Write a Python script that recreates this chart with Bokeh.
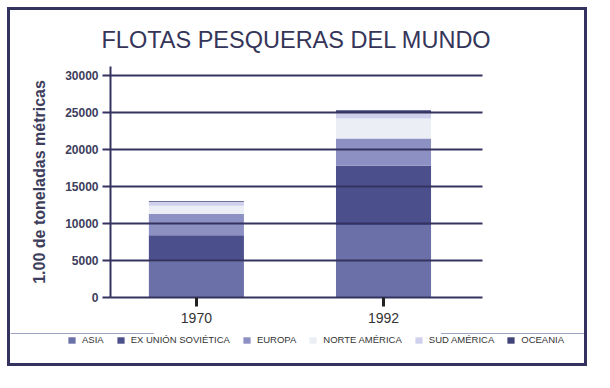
from bokeh.plotting import figure
from bokeh.layouts import column
from bokeh.models import Range1d, FixedTicker, Legend, LegendItem, ColumnDataSource, InlineStyleSheet
from bokeh.embed import file_html
from bokeh.resources import INLINE

# ---- data ----
years = ["1970", "1992"]
asia = [4900, 9800]
ex_union_sovietica = [3500, 8000]
europa = [2900, 3700]
norte_america = [1100, 2700]
sud_america = [500, 800]
oceania = [100, 300]
series_names = ["ASIA", "EX UNIÓN SOVIÉTICA", "EUROPA", "NORTE AMÉRICA", "SUD AMÉRICA", "OCEANIA"]
y_ticks = [0, 5000, 10000, 15000, 20000, 25000, 30000]

# ---- styles ----
colors = ["#6c70a8", "#4b4f8c", "#8c90c3", "#eceef6", "#cfd1ec", "#3f4378"]
navy = "#34325e"
FONT = "Liberation Sans"

keys = ["asia", "exus", "europa", "norte", "sud", "oceania"]
xpos = list(range(len(years)))
source = ColumnDataSource(dict(x=xpos, asia=asia, exus=ex_union_sovietica, europa=europa,
                               norte=norte_america, sud=sud_america, oceania=oceania))

p = figure(frame_width=372, frame_height=231,
           min_border_left=100, min_border_right=102, min_border_top=55, min_border_bottom=36,
           x_range=Range1d(-0.459, 1.529), y_range=Range1d(0, 31216),
           output_backend="svg", toolbar_location=None)
p.frame_align = False
p.outline_line_color = None
p.background_fill_color = "white"
p.border_fill_color = "white"

renderers = p.vbar_stack(keys, x="x", width=0.508, color=colors, source=source, line_color=None)

# title
p.title.text = "FLOTAS PESQUERAS DEL MUNDO"
p.title.align = "center"
p.title.text_font = FONT
p.title.text_font_size = "23.5px"
p.title.text_font_style = "normal"
p.title.text_color = "#35355a"
p.title.standoff = 28

# grid
p.xgrid.visible = False
p.ygrid.ticker = FixedTicker(ticks=y_ticks)
p.ygrid.grid_line_color = navy
p.ygrid.grid_line_width = 2
p.ygrid.level = "overlay"

# y axis
ya = p.yaxis[0]
ya.ticker = FixedTicker(ticks=y_ticks)
ya.axis_line_color = navy
ya.axis_line_width = 2
ya.major_tick_line_color = navy
ya.major_tick_line_width = 2
ya.major_tick_out = 8
ya.major_tick_in = 0
ya.minor_tick_line_color = None
ya.major_label_text_font = FONT
ya.major_label_text_font_style = "bold"
ya.major_label_text_font_size = "12px"
ya.major_label_text_color = "#3d3d5c"
ya.major_label_standoff = 4
ya.axis_label = "1.00 de toneladas métricas"
ya.axis_label_text_font = FONT
ya.axis_label_text_font_style = "bold"
ya.axis_label_text_font_size = "16px"
ya.axis_label_text_color = "#3d3d5c"
ya.axis_label_standoff = 14

# x axis
xa = p.xaxis[0]
xa.ticker = FixedTicker(ticks=xpos)
xa.major_label_overrides = {i: y for i, y in zip(xpos, years)}
xa.axis_line_color = navy
xa.axis_line_width = 2
xa.major_tick_line_color = "#222222"
xa.major_tick_line_width = 3
xa.major_tick_out = 9
xa.major_tick_in = 0
xa.minor_tick_line_color = None
xa.major_label_text_font = FONT
xa.major_label_text_font_size = "14px"
xa.major_label_text_color = "#333333"
xa.major_label_standoff = 6

# legend strip (separate figure so it can be wider than the plot frame);
# it holds a hidden copy of the stacks (out of its visible range) to supply the swatches
lg = figure(width=574, height=30, min_border=0, x_range=Range1d(0, 1), y_range=Range1d(-2, -1),
            output_backend="svg", toolbar_location=None)
lg.frame_align = False
lg.axis.visible = False
lg.grid.visible = False
lg.outline_line_color = None
lg.border_fill_color = "white"
proxies = lg.vbar_stack(keys, x="x", width=0.5, color=colors, source=source, line_color=None)
items = [LegendItem(label=n, renderers=[r]) for n, r in zip(series_names, proxies)]
legend = Legend(items=items, orientation="horizontal", location=(57, 18),
                background_fill_alpha=0, border_line_color=None, padding=0, margin=0,
                spacing=12, label_standoff=6, glyph_width=9, glyph_height=8,
                label_height=10, label_text_font=FONT, label_text_font_size="9.5px",
                label_text_color="#333333")
lg.add_layout(legend)

root = column(p, lg, spacing=0)
root.stylesheets = [InlineStyleSheet(
    css=":host { border: 3px solid %s !important; transform: translate(7px, 7px); }" % navy)]

open("out.html", "w").write(file_html(root, INLINE))
